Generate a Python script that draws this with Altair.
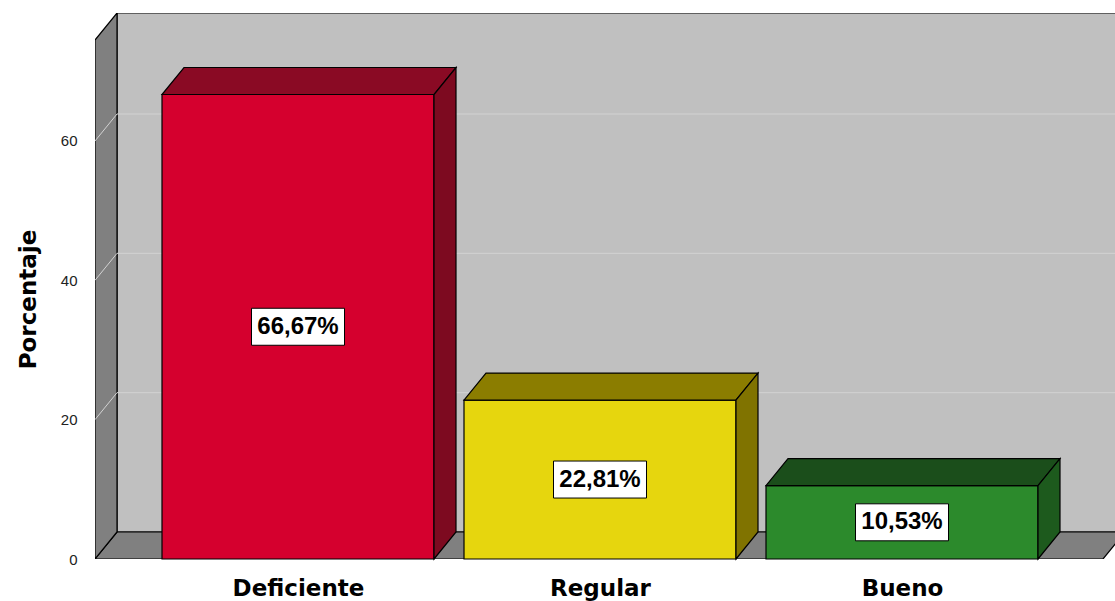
import altair as alt
import pandas as pd

# ---- data ----
categories = ["Deficiente", "Regular", "Bueno"]
values = [66.67, 22.81, 10.53]
front_colors = ["#d5002e", "#e6d60e", "#2c8a2c"]
top_colors = ["#8a0a24", "#8b7d00", "#1b4e1b"]
side_colors = ["#7d0a20", "#807300", "#1d5a1d"]
y_ticks = [0, 20, 40, 60]
y_title = "Porcentaje"

# ---- layout (x in pixel-like units, y in percent) ----
W, H = 1020, 546
PX_PER_UNIT = 6.967
YMAX = H / PX_PER_UNIT
DX = 22
DY = 27 / PX_PER_UNIT
WALL_TOP = YMAX - DY
BAR_START, BAR_W, BAR_STEP = 67, 272, 302
FLOOR_LEN = 1008
BOX_W, BOX_H = 93, 37 / PX_PER_UNIT
FONT = "Liberation Sans"
FONT2 = "DejaVu Sans"

xs = alt.Scale(domain=[0, W], nice=False, zero=False)
ys = alt.Scale(domain=[0, YMAX], nice=False, zero=False)

rows = []
def poly(name, pts, fill):
    for (x, y, y2) in pts:
        rows.append(dict(shape=name, x=x, y=y, y2=y2, fill=fill))

# ---- walls ----
poly("a_back", [(DX, DY, WALL_TOP + DY), (W + 60, DY, WALL_TOP + DY)], "#c0c0c0")
poly("b_floor", [(0, 0, 0), (DX, 0, DY), (FLOOR_LEN, 0, DY), (FLOOR_LEN + DX, DY, DY)], "#808080")
poly("c_left", [(0, 0, WALL_TOP), (DX, DY, WALL_TOP + DY)], "#808080")
walls = pd.DataFrame(rows)

# ---- bars ----
rows = []
centers = []
for i, (c, v) in enumerate(zip(categories, values)):
    x0 = BAR_START + i * BAR_STEP
    x1 = x0 + BAR_W
    centers.append(x0 + BAR_W / 2)
    poly(f"{i}_front", [(x0, 0, v), (x1, 0, v)], front_colors[i])
    poly(f"{i}_top", [(x0, v, v), (x0 + DX, v, v + DY), (x1, v, v + DY), (x1 + DX, v + DY, v + DY)], top_colors[i])
    poly(f"{i}_side", [(x1, 0, v), (x1 + DX, DY, v + DY)], side_colors[i])
bars = pd.DataFrame(rows)

# ---- grid lines ----
grows = []
for t in y_ticks[1:]:
    for k, (x, y) in enumerate([(0, t), (DX, t + DY), (W, t + DY)]):
        grows.append(dict(t=t, k=k, x=x, y=y))
grid = pd.DataFrame(grows)

# ---- labels ----
lab = pd.DataFrame({"cat": categories, "v": values, "cx": centers})
lab["cy"] = lab["v"] / 2
lab["x0"] = lab["cx"] - BOX_W / 2
lab["x1"] = lab["cx"] + BOX_W / 2
lab["y0"] = lab["cy"] - BOX_H / 2
lab["y1"] = lab["cy"] + BOX_H / 2
lab["txt"] = [f"{v:.2f}".replace(".", ",") + "%" for v in values]

expr = "''"
for c, cx in zip(reversed(categories), reversed(centers)):
    expr = f"abs(datum.value - {cx}) < 1 ? '{c}' : " + expr

x_axis = alt.Axis(values=centers, labelExpr=expr, title=None, domain=False,
                  ticks=False, grid=False, labelFont=FONT2, labelFontSize=23,
                  labelFontWeight="bold", labelColor="black", labelPadding=36,
                  labelBaseline="alphabetic", labelFlush=False)
y_axis = alt.Axis(values=y_ticks, title=y_title, domain=False, ticks=False, grid=False,
                  labelFont=FONT, labelFontSize=15, labelColor="#222",
                  labelPadding=18, titleFont=FONT2, titleFontSize=23,
                  titleFontWeight="bold", titleColor="black",
                  titleX=-60, titleY=286, titleBaseline="alphabetic")

def X(f):
    return alt.X(f, scale=xs, axis=x_axis)

def Y(f, **kw):
    return alt.Y(f, scale=ys, axis=y_axis, **kw)

wall_layer = alt.Chart(walls).mark_area(orient="vertical", stroke="black", strokeWidth=1.2, clip=True).encode(
    x=X("x:Q"),
    y=Y("y:Q", stack=None),
    y2="y2:Q",
    detail="shape:N",
    fill=alt.Fill("fill:N", scale=None),
)

grid_layer = alt.Chart(grid).mark_line(color="#d2d2d2", strokeWidth=1, clip=True).encode(
    x=X("x:Q"),
    y=Y("y:Q"),
    detail="t:N",
    order="k:Q",
)

bar_layer = alt.Chart(bars).mark_area(orient="vertical", stroke="black", strokeWidth=1.2).encode(
    x=X("x:Q"),
    y=Y("y:Q", stack=None),
    y2="y2:Q",
    detail="shape:N",
    fill=alt.Fill("fill:N", scale=None),
)

box_layer = alt.Chart(lab).mark_rect(fill="white", stroke="black", strokeWidth=1).encode(
    x=X("x0:Q"), x2="x1:Q",
    y=Y("y0:Q"), y2="y1:Q",
)

text_layer = alt.Chart(lab).mark_text(font=FONT, fontSize=24, fontWeight="bold", color="black").encode(
    x=X("cx:Q"),
    y=Y("cy:Q"),
    text="txt:N",
)

chart = alt.layer(wall_layer, grid_layer, bar_layer, box_layer, text_layer).properties(
    width=W, height=H,
    autosize=alt.AutoSizeParams(type="none"),
    padding={"left": 95, "top": 13, "right": 0, "bottom": 42},
    background="white",
).configure_view(stroke=None)

chart.save("out.html", embed_options={"renderer": "svg", "actions": False})
